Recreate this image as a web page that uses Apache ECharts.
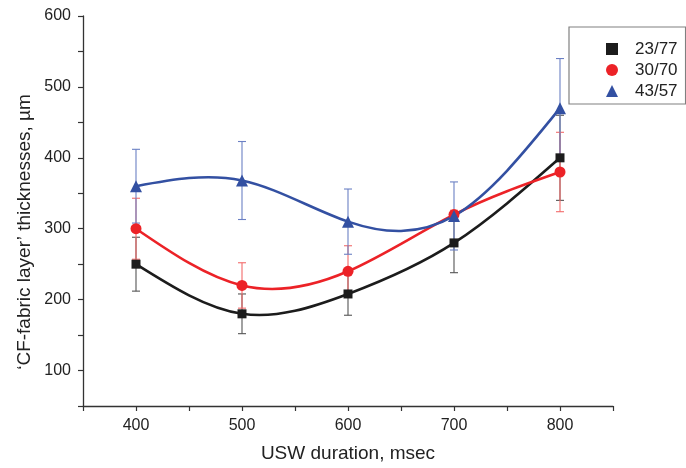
<!DOCTYPE html>
<html>
<head>
<meta charset="utf-8">
<script src="https://cdn.jsdelivr.net/npm/echarts@6/dist/echarts.min.js"></script>
<style>
html,body{margin:0;padding:0;background:#fff;}
#c{width:686px;height:468px;}
</style>
</head>
<body>
<div id="c"></div>
<script>
const durations = [400, 500, 600, 700, 800];
const seriesNames = ['23/77', '30/70', '43/57'];
const values2377 = [250, 180, 208, 280, 400];
const values3070 = [300, 220, 240, 320, 380];
const values4357 = [360, 368, 310, 318, 470];
const err2377 = [38, 28, 30, 42, 60];
const err3070 = [43, 32, 36, 6, 56];
const err4357 = [52, 55, 46, 48, 70];
const xTicks = [400, 500, 600, 700, 800];
const yTicks = [100, 200, 300, 400, 500, 600];

const colors = ['#1c1c1c', '#ec2227', '#3350a2'];
const errColors = ['#555555', '#f26a6a', '#6b80c4'];
const symbols = ['rect', 'circle', 'triangle'];
const symbolSizes = [9, 11, 12];

const allValues = [values2377, values3070, values4357];
const allErr = [err2377, err3070, err4357];

// Natural cubic spline slopes at the data points (used only to shape the drawn curve)
function splineSlopes(xs, ys) {
  const n = xs.length;
  const h = [];
  for (let i = 0; i < n - 1; i++) h.push(xs[i + 1] - xs[i]);
  const a = new Array(n).fill(0), b = new Array(n).fill(1), c = new Array(n).fill(0), d = new Array(n).fill(0);
  for (let i = 1; i < n - 1; i++) {
    a[i] = h[i - 1] / 6;
    b[i] = (h[i - 1] + h[i]) / 3;
    c[i] = h[i] / 6;
    d[i] = (ys[i + 1] - ys[i]) / h[i] - (ys[i] - ys[i - 1]) / h[i - 1];
  }
  // Thomas algorithm
  const cp = new Array(n).fill(0), dp = new Array(n).fill(0);
  cp[0] = c[0] / b[0]; dp[0] = d[0] / b[0];
  for (let i = 1; i < n; i++) {
    const m = b[i] - a[i] * cp[i - 1];
    cp[i] = c[i] / m;
    dp[i] = (d[i] - a[i] * dp[i - 1]) / m;
  }
  const M = new Array(n).fill(0);
  M[n - 1] = dp[n - 1];
  for (let i = n - 2; i >= 0; i--) M[i] = dp[i] - cp[i] * M[i + 1];
  const s = [];
  for (let i = 0; i < n - 1; i++) {
    s.push((ys[i + 1] - ys[i]) / h[i] - h[i] * (2 * M[i] + M[i + 1]) / 6);
  }
  const k = n - 2;
  s.push((ys[k + 1] - ys[k]) / h[k] + h[k] * (M[k] + 2 * M[k + 1]) / 6);
  return s;
}

function curveSeries(idx) {
  const ys = allValues[idx];
  const slopes = splineSlopes(durations, ys);
  return {
    type: 'custom',
    name: 'curve' + idx,
    z: 3 + idx,
    silent: true,
    data: durations.map((d, i) => [d, ys[i]]),
    renderItem: function (params, api) {
      const i = params.dataIndex;
      if (i >= durations.length - 1) return { type: 'group', children: [] };
      const x0 = durations[i], x1 = durations[i + 1], h = x1 - x0;
      const p0 = api.coord([x0, ys[i]]);
      const p1 = api.coord([x1, ys[i + 1]]);
      const c1 = api.coord([x0 + h / 3, ys[i] + slopes[i] * h / 3]);
      const c2 = api.coord([x1 - h / 3, ys[i + 1] - slopes[i + 1] * h / 3]);
      return {
        type: 'bezierCurve',
        shape: { x1: p0[0], y1: p0[1], x2: p1[0], y2: p1[1], cpx1: c1[0], cpy1: c1[1], cpx2: c2[0], cpy2: c2[1] },
        style: { stroke: colors[idx], lineWidth: 2.6, fill: 'none', lineCap: 'round' }
      };
    }
  };
}

function errData(vals, errs) {
  return durations.map((d, i) => [d, vals[i] - errs[i], vals[i] + errs[i]]);
}

function errorSeries(idx) {
  return {
    type: 'custom',
    name: 'err' + idx,
    z: 2,
    silent: true,
    data: errData(allValues[idx], allErr[idx]),
    renderItem: function (params, api) {
      const x = api.value(0);
      const lo = api.coord([x, api.value(1)]);
      const hi = api.coord([x, api.value(2)]);
      const hw = 4;
      const st = { stroke: errColors[idx], lineWidth: 1.1 };
      return {
        type: 'group',
        children: [
          { type: 'line', shape: { x1: hi[0], y1: hi[1], x2: lo[0], y2: lo[1] }, style: st },
          { type: 'line', shape: { x1: hi[0] - hw, y1: hi[1], x2: hi[0] + hw, y2: hi[1] }, style: st },
          { type: 'line', shape: { x1: lo[0] - hw, y1: lo[1], x2: lo[0] + hw, y2: lo[1] }, style: st }
        ]
      };
    }
  };
}

function markerSeries(idx) {
  return {
    type: 'scatter',
    name: seriesNames[idx],
    z: 6 + idx,
    data: durations.map((d, i) => [d, allValues[idx][i]]),
    symbol: symbols[idx],
    symbolSize: symbolSizes[idx],
    itemStyle: { color: colors[idx], opacity: 1 },
    emphasis: { disabled: true }
  };
}

const chart = echarts.init(document.getElementById('c'), null, { renderer: 'canvas' });
const axisColor = '#333333';
const font = 'Liberation Sans, Arial, sans-serif';

chart.setOption({
  animation: false,
  backgroundColor: '#ffffff',
  grid: { left: 83, right: 73, top: 16, bottom: 60 },
  xAxis: {
    type: 'value',
    min: 350, max: 850, interval: 50,
    name: 'USW duration, msec',
    nameLocation: 'middle',
    nameGap: 38,
    nameTextStyle: { fontSize: 19, color: '#222', fontFamily: font },
    axisLine: { show: true, lineStyle: { color: axisColor, width: 1.3 } },
    axisTick: { show: true, inside: false, length: 5, lineStyle: { color: axisColor, width: 1.2 } },
    splitLine: { show: false },
    axisLabel: {
      fontSize: 16, color: '#222', fontFamily: font, margin: 12,
      formatter: v => (xTicks.indexOf(v) >= 0 ? String(v) : '')
    }
  },
  yAxis: {
    type: 'value',
    min: 50, max: 600, interval: 50,
    axisLine: { show: true, lineStyle: { color: axisColor, width: 1.3 } },
    axisTick: { show: true, inside: false, length: 5, lineStyle: { color: axisColor, width: 1.2 } },
    splitLine: { show: false },
    axisLabel: {
      fontSize: 16, color: '#222', fontFamily: font, margin: 12,
      formatter: v => (yTicks.indexOf(v) >= 0 ? String(v) : '')
    }
  },
  legend: {
    orient: 'vertical',
    left: 569, top: 27,
    padding: [12, 8, 3, 37],
    borderColor: '#808080', borderWidth: 1.2,
    itemWidth: 12, itemHeight: 12, itemGap: 1,
    selectedMode: false,
    textStyle: { fontSize: 17, color: '#222', fontFamily: font, lineHeight: 20, padding: [0, 0, 0, 12] },
    data: seriesNames.map((n, i) => ({ name: n, icon: symbols[i] }))
  },
  graphic: [{
    type: 'text',
    x: 25, y: 232,
    rotation: Math.PI / 2,
    style: {
      text: '\u2018CF-fabric layer\u2019 thicknesses, \u00b5m',
      font: '19px ' + font,
      fill: '#222',
      textAlign: 'center',
      textVerticalAlign: 'middle'
    }
  }],
  series: [
    errorSeries(0), errorSeries(1), errorSeries(2),
    curveSeries(0), curveSeries(1), curveSeries(2),
    markerSeries(0), markerSeries(1), markerSeries(2)
  ]
});
</script>
</body>
</html>
